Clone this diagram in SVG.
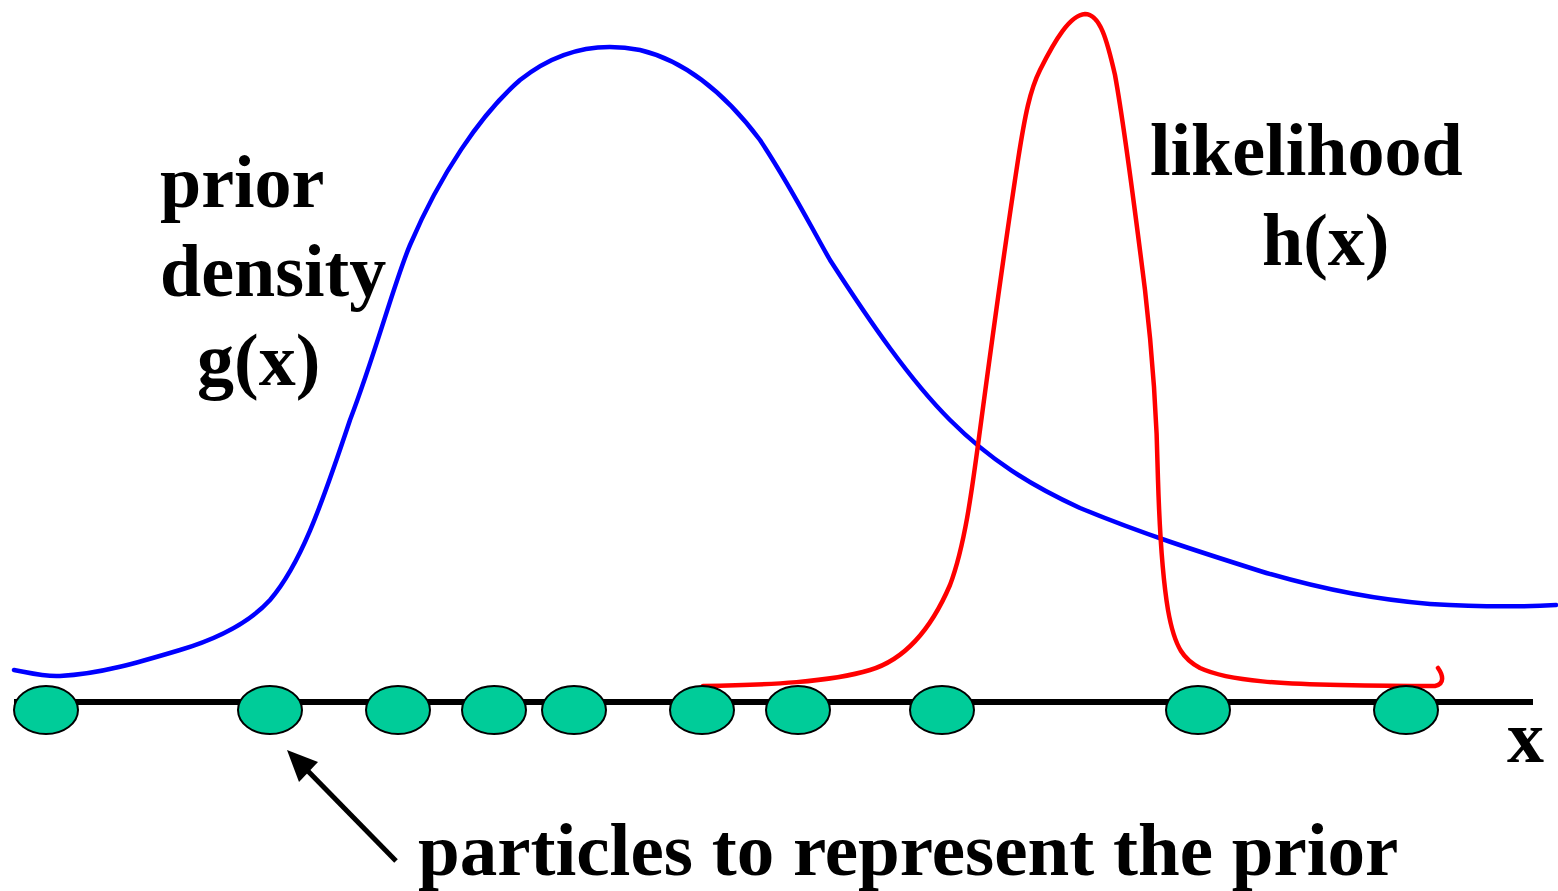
<svg xmlns="http://www.w3.org/2000/svg" width="1558" height="891" viewBox="0 0 1558 891">
<style>
.t{font-family:"Liberation Serif","Times New Roman",serif;font-weight:bold;font-size:74px;fill:#000}
.b{font-size:75px}
.p{fill:#00CC99;stroke:#000;stroke-width:2}
.c{fill:none;stroke-width:4.5;stroke-linecap:round;stroke-linejoin:round}
</style>
<rect width="1558" height="891" fill="#fff"/>
<g id="axis"><line x1="14" y1="702" x2="1533" y2="702" stroke="#000" stroke-width="6"/></g>
<g id="prior-curve"><path class="c" stroke="#0000FF" d="M14,670 C30,673 45,677 60,676 C100,674 140,662 180,650 C220,638 250,622 270,600 C300,565 320,510 350,420 C375,355 395,280 410,245 C440,175 480,115 520,80 C560,48 600,42 640,50 C690,62 730,100 760,140 C790,185 810,225 830,260 C870,322 910,380 950,420 C990,460 1030,485 1080,508 C1140,533 1200,552 1260,571 C1320,589 1380,600 1430,604 C1480,607 1520,607 1556,605"/></g>
<g id="likelihood-curve"><path class="c" stroke="#FF0000" d="M703,686 C770,685 830,682 870,670 C910,658 935,620 950,585 C965,545 972,490 980,430 C990,355 1005,245 1018,160 C1025,115 1030,90 1040,70 C1055,40 1070,15 1085,14 C1100,14 1107,40 1115,75 C1125,130 1135,210 1145,290 C1152,350 1157,420 1158,480 C1160,545 1163,580 1168,610 C1175,650 1185,660 1200,668 C1230,682 1290,684 1340,685 C1390,686 1420,686 1435,686 C1445,684 1443,675 1438,668"/></g>
<g id="particles">
<ellipse class="p" cx="46" cy="710" rx="32" ry="24"/>
<ellipse class="p" cx="270" cy="710" rx="32" ry="24"/>
<ellipse class="p" cx="398" cy="710" rx="32" ry="24"/>
<ellipse class="p" cx="494" cy="710" rx="32" ry="24"/>
<ellipse class="p" cx="574" cy="710" rx="32" ry="24"/>
<ellipse class="p" cx="702" cy="710" rx="32" ry="24"/>
<ellipse class="p" cx="798" cy="710" rx="32" ry="24"/>
<ellipse class="p" cx="942" cy="710" rx="32" ry="24"/>
<ellipse class="p" cx="1198" cy="710" rx="32" ry="24"/>
<ellipse class="p" cx="1406" cy="710" rx="32" ry="24"/>
</g>
<g id="connectors">
<line x1="396" y1="861" x2="303" y2="766" stroke="#000" stroke-width="5"/>
<path d="M287,750 L318,762 L299,782 z" fill="#000"/>
</g>
<g id="labels">
<text class="t" x="160" y="207">prior</text>
<text class="t" x="160" y="296">density</text>
<text class="t" x="197" y="385">g(x)</text>
<text class="t" x="1150" y="175">likelihood</text>
<text class="t" x="1262" y="265">h(x)</text>
<text class="t" x="1507" y="762">x</text>
<text class="t b" x="418" y="875">particles to represent the prior</text>
</g>
</svg>
